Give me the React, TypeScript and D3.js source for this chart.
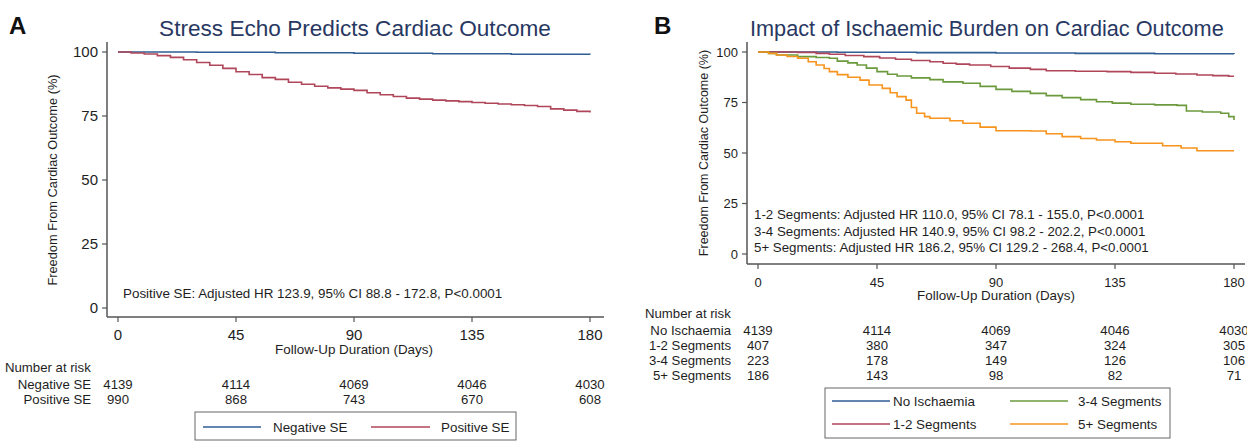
import React from 'react';
import * as d3 from 'd3';

// follow-up days and percentage ticks shared by both panels
const xTicks = [0, 45, 90, 135, 180];
const yTicks = [0, 25, 50, 75, 100];

// Panel A: KM estimates [day, % free from cardiac outcome]
const negativeSE: [number, number][] = [
  [0, 100], [30, 99.9], [60, 99.7], [90, 99.5], [120, 99.3], [150, 99.1], [180, 99.0],
];
const positiveSE: [number, number][] = [
  [0, 100], [5, 99.6], [10, 99.2], [15, 98.6], [20, 97.9], [25, 97.0], [30, 95.9],
  [35, 94.8], [40, 93.6], [45, 92.3], [50, 91.2], [55, 90.0], [60, 89.3], [65, 88.2],
  [70, 87.4], [75, 86.6], [80, 86.0], [85, 85.5], [90, 85.0], [95, 84.1], [100, 83.3],
  [105, 82.6], [110, 82.0], [115, 81.6], [120, 81.2], [125, 80.9], [130, 80.6],
  [135, 80.3], [140, 80.0], [145, 79.7], [150, 79.4], [155, 79.1], [160, 78.7],
  [165, 77.8], [170, 77.3], [175, 76.8], [180, 76.4],
];
const riskA = ['Negative SE', 'Positive SE'];
const riskANumbers = [
  [4139, 4114, 4069, 4046, 4030],
  [990, 868, 743, 670, 608],
];

// Panel B
const noIschaemia: [number, number][] = [
  [0, 100], [30, 99.9], [60, 99.7], [90, 99.5], [120, 99.3], [150, 99.1], [180, 99.0],
];
const seg12: [number, number][] = [
  [0, 100], [15, 99.8], [22, 99.3], [27, 98.9], [33, 98.3], [40, 97.7], [46, 97.0],
  [52, 96.4], [58, 95.8], [65, 95.2], [70, 94.4], [75, 94.0], [80, 93.6], [88, 92.8],
  [95, 92.0], [103, 91.4], [109, 90.7], [120, 90.5], [132, 90.3], [141, 89.9],
  [150, 89.5], [158, 89.1], [166, 88.6], [172, 88.3], [178, 88.0], [180, 88.0],
];
const seg34: [number, number][] = [
  [0, 100], [4, 99.3], [7, 98.5], [15, 97.7], [22, 97.3], [27, 96.9], [30, 95.5],
  [34, 94.6], [37.5, 93.6], [41, 92.0], [45, 90.3], [49, 89.0], [52.6, 88.1],
  [58, 87.2], [65, 86.3], [70, 85.2], [77.5, 84.5], [84, 83.0], [90, 81.5],
  [96, 80.5], [103, 79.5], [109, 78.4], [115, 77.4], [122, 76.4], [128, 75.4],
  [134, 74.7], [141, 74.1], [150, 73.8], [158.5, 73.6], [162, 70.8], [168, 70.3],
  [175, 69.7], [178, 68.0], [180, 66.3],
];
const seg5: [number, number][] = [
  [0, 100], [4, 99.3], [7, 98.5], [11, 97.8], [15, 96.9], [19, 95.2], [22, 93.6],
  [25, 91.8], [27, 90.3], [30, 88.8], [34, 87.5], [38.6, 86.1], [42, 83.7],
  [47, 82.0], [50, 79.8], [52.6, 77.9], [56, 76.2], [58, 72.5], [60, 69.7],
  [63, 68.0], [65, 67.2], [72.6, 66.0], [77.5, 64.7], [84, 62.8], [90, 61.0],
  [103, 60.9], [109, 59.5], [115, 58.1], [122, 57.2], [128, 56.4], [135, 55.6],
  [141, 54.8], [153, 53.6], [160, 52.5], [166, 51.1], [180, 51.1],
];
const riskB = ['No Ischaemia', '1-2 Segments', '3-4 Segments', '5+ Segments'];
const riskBNumbers = [
  [4139, 4114, 4069, 4046, 4030],
  [407, 380, 347, 324, 305],
  [223, 178, 149, 126, 106],
  [186, 143, 98, 82, 71],
];
const hrLinesB = [
  '1-2 Segments: Adjusted HR 110.0, 95% CI 78.1 - 155.0, P<0.0001',
  '3-4 Segments: Adjusted HR 140.9, 95% CI 98.2 - 202.2, P<0.0001',
  '5+ Segments: Adjusted HR 186.2, 95% CI 129.2 - 268.4, P<0.0001',
];

const BLUE = '#2f5d94';
const RED = '#b0465a';
const GREEN = '#6b9a3c';
const ORANGE = '#f7941d';
const TITLE = '#283862';
const AXIS = '#555';
const TXT = '#1e1e1e';
const FONT = 'Liberation Sans, Arial, sans-serif';

type PanelProps = {
  x: d3.ScaleLinear<number, number>;
  y: d3.ScaleLinear<number, number>;
  axisLeft: number;
  axisTop: number;
  axisBottom: number;
  axisRight: number;
  tickFont: number;
  tickLabelY: number;
};

function Axes({ x, y, axisLeft, axisTop, axisBottom, axisRight, tickFont, tickLabelY }: PanelProps) {
  return (
    <g>
      <line x1={axisLeft} x2={axisLeft} y1={axisTop} y2={axisBottom} stroke={AXIS} strokeWidth={1.5} />
      <line x1={axisLeft} x2={axisRight} y1={axisBottom} y2={axisBottom} stroke={AXIS} strokeWidth={1.5} />
      {yTicks.map((t) => (
        <g key={'y' + t}>
          <line x1={axisLeft - 5} x2={axisLeft} y1={y(t)} y2={y(t)} stroke={AXIS} strokeWidth={1.2} />
          <text x={axisLeft - 9} y={y(t)} dy="0.35em" textAnchor="end" fontSize={tickFont} fill={TXT}>{t}</text>
        </g>
      ))}
      {xTicks.map((t) => (
        <g key={'x' + t}>
          <line x1={x(t)} x2={x(t)} y1={axisBottom} y2={axisBottom + 5} stroke={AXIS} strokeWidth={1.2} />
          <text x={x(t)} y={tickLabelY} textAnchor="middle" fontSize={tickFont} fill={TXT}>{t}</text>
        </g>
      ))}
    </g>
  );
}

export default function App() {
  // panel A scales
  const xA = d3.scaleLinear().domain([0, 180]).range([118, 590]);
  const yA = d3.scaleLinear().domain([0, 100]).range([308, 52]);
  const lineA = d3.line<[number, number]>().curve(d3.curveStepAfter).x((d) => xA(d[0])).y((d) => yA(d[1]));

  // panel B scales
  const xB = d3.scaleLinear().domain([0, 180]).range([758, 1234]);
  const yB = d3.scaleLinear().domain([0, 100]).range([254, 52]);
  const lineB = d3.line<[number, number]>().curve(d3.curveStepAfter).x((d) => xB(d[0])).y((d) => yB(d[1]));
  const seriesB = [
    { data: noIschaemia, color: BLUE },
    { data: seg12, color: RED },
    { data: seg34, color: GREEN },
    { data: seg5, color: ORANGE },
  ];

  return (
    <svg width={1247} height={442} style={{ position: 'absolute', left: 0, top: 0, background: '#fff' }} fontFamily={FONT}>
      {/* ---- Panel A ---- */}
      <text x={9} y={34} fontSize={24} fontWeight="bold" fill="#111">A</text>
      <text x={355} y={36} textAnchor="middle" fontSize={22.6} fill={TITLE}>Stress Echo Predicts Cardiac Outcome</text>
      <Axes x={xA} y={yA} axisLeft={107} axisTop={42} axisBottom={317} axisRight={604} tickFont={15} tickLabelY={340} />
      <text transform={`translate(57, 180) rotate(-90)`} textAnchor="middle" fontSize={12.8} fill={TXT}>Freedom From Cardiac Outcome (%)</text>
      <text x={xA(90)} y={354} textAnchor="middle" fontSize={13.4} fill={TXT}>Follow-Up Duration (Days)</text>
      <path d={lineA(negativeSE) || ''} fill="none" stroke={BLUE} strokeWidth={1.6} />
      <path d={lineA(positiveSE) || ''} fill="none" stroke={RED} strokeWidth={1.6} />
      <text x={123} y={298} fontSize={13.4} fill={TXT}>Positive SE: Adjusted HR 123.9, 95% CI 88.8 - 172.8, P&lt;0.0001</text>

      <text x={5} y={372} fontSize={13.2} fill={TXT}>Number at risk</text>
      {riskA.map((lab, i) => (
        <g key={lab}>
          <text x={91} y={389 + i * 15} textAnchor="end" fontSize={13.2} fill={TXT}>{lab}</text>
          {riskANumbers[i].map((n, j) => (
            <text key={j} x={xA(xTicks[j])} y={389 + i * 15} textAnchor="middle" fontSize={13.2} fill={TXT}>{n}</text>
          ))}
        </g>
      ))}
      <rect x={195} y={412} width={321} height={28} fill="#fff" stroke="#666" strokeWidth={1} />
      <line x1={203} x2={261} y1={427} y2={427} stroke={BLUE} strokeWidth={1.6} />
      <text x={273} y={432} fontSize={13.4} fill={TXT}>Negative SE</text>
      <line x1={371} x2={430} y1={427} y2={427} stroke={RED} strokeWidth={1.6} />
      <text x={441} y={432} fontSize={13.4} fill={TXT}>Positive SE</text>

      {/* ---- Panel B ---- */}
      <text x={654} y={34} fontSize={24} fontWeight="bold" fill="#111">B</text>
      <text x={750} y={36} fontSize={21.7} fill={TITLE}>Impact of Ischaemic Burden on Cardiac Outcome</text>
      <Axes x={xB} y={yB} axisLeft={747} axisTop={42} axisBottom={264} axisRight={1245} tickFont={13} tickLabelY={287} />
      <text transform={`translate(708, 153) rotate(-90)`} textAnchor="middle" fontSize={12.5} fill={TXT}>Freedom From Cardiac Outcome (%)</text>
      <text x={xB(90)} y={300} textAnchor="middle" fontSize={13.4} fill={TXT}>Follow-Up Duration (Days)</text>
      {seriesB.map((s, i) => (
        <path key={i} d={lineB(s.data) || ''} fill="none" stroke={s.color} strokeWidth={1.6} />
      ))}
      {hrLinesB.map((t, i) => (
        <text key={i} x={754} y={219 + i * 16.5} fontSize={13.3} fill={TXT}>{t}</text>
      ))}

      <text x={645} y={318} fontSize={13.2} fill={TXT}>Number at risk</text>
      {riskB.map((lab, i) => (
        <g key={lab}>
          <text x={731} y={335 + i * 15} textAnchor="end" fontSize={13.2} fill={TXT}>{lab}</text>
          {riskBNumbers[i].map((n, j) => (
            <text key={j} x={xB(xTicks[j])} y={335 + i * 15} textAnchor="middle" fontSize={13.2} fill={TXT}>{n}</text>
          ))}
        </g>
      ))}
      <rect x={825} y={388} width={345} height={50} fill="#fff" stroke="#666" strokeWidth={1} />
      {riskB.map((lab, i) => {
        const col = i < 2 ? 0 : 1;
        const row = i % 2;
        const lx = col === 0 ? 832 : 1010;
        const ly = 401 + row * 23;
        return (
          <g key={'lg' + lab}>
            <line x1={lx} x2={lx + 58} y1={ly} y2={ly} stroke={seriesB[i].color} strokeWidth={1.6} />
            <text x={col === 0 ? 893 : 1078} y={ly + 5} fontSize={13.4} fill={TXT}>{lab}</text>
          </g>
        );
      })}
    </svg>
  );
}
